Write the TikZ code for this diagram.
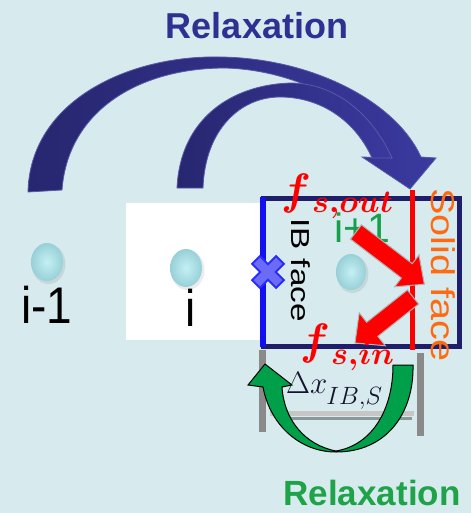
\RequirePackage{fix-cm}
\documentclass[tikz,border=0pt]{standalone}
\usepackage[no-math]{fontspec}
\newfontfamily\sansfam{Liberation Sans}
\definecolor{bgcol}{HTML}{D7EAED}
\definecolor{titleblue}{HTML}{2E3192}
\definecolor{arcdark}{HTML}{27266F}
\definecolor{arclight}{HTML}{3A399E}
\definecolor{boxnavy}{HTML}{1E1E6A}
\definecolor{ibblue}{HTML}{1010F0}
\definecolor{xfill}{HTML}{6B6BF5}
\definecolor{xline}{HTML}{2B2BFF}
\definecolor{solidorange}{HTML}{FF6A10}
\definecolor{cellgreen}{HTML}{16A04C}
\definecolor{arrgreen}{HTML}{00A04A}
\definecolor{relaxgreen}{HTML}{1FA349}
\definecolor{ballin}{HTML}{C4F0F4}
\definecolor{ballout}{HTML}{98D0D8}
\definecolor{dimgray}{HTML}{8A8A8A}
\definecolor{symbcol}{HTML}{14142E}
\begin{document}
\begin{tikzpicture}[x=1pt,y=-1pt,
  txt/.style={inner sep=0pt},
  ballshape/.style={inner color=ballin, outer color=ballout},
  arcband/.style={left color=arcdark, right color=arclight, draw=gray!70!blue, line width=0.8pt},
  redarrow/.style={fill=red, draw=gray!60, line width=1pt},
  guide/.style={dimgray, line width=7pt}]
\fill[bgcol] (0,0) rectangle (471,513);
\useasboundingbox (0,0) rectangle (471,513);

% cell i
\fill[white] (126,203) rectangle (263,340);

% cell centres
\foreach \cx/\cy/\rx/\ry in {47/262/16/19, 186/268/16/19, 351/272/15/18}{
  \fill[black, opacity=0.08] (\cx+1.5,\cy+2) ellipse [x radius=\rx+1, y radius=\ry+1];
  \shade[ballshape] (\cx,\cy) ellipse [x radius=\rx, y radius=\ry];
}

% boundary cell i+1
\draw[boxnavy, line width=5pt] (263,198) rectangle (459,346);
\draw[red, line width=5pt] (412,190) -- (412,350);
\draw[ibblue, line width=6pt] (263,197) -- (263,347);

% extent of the cut cell
\draw[guide] (262,350) -- (262,432);
\draw[guide] (420,353) -- (420,436);
\draw[black, opacity=0.35, line width=3pt] (276,418) -- (412,418);
\draw[gray!45, line width=5pt] (270,413) -- (414,413);

% labels
\node[txt, anchor=base] (tRelax) at (257,39) {\sansfam\bfseries\fontsize{36}{36}\selectfont\color{titleblue}Relaxation};
\node[txt, anchor=base] (bRelax) at (372,505) {\sansfam\bfseries\fontsize{35}{35}\selectfont\color{relaxgreen}Relaxation};
\node[txt, anchor=base] (lim1) at (47,323) {\sansfam\fontsize{46}{46}\selectfont\scalebox{1}[1.12]{i-1}};
\node[txt, anchor=base] (li) at (191,326) {\sansfam\fontsize{46}{46}\selectfont\scalebox{1}[1.12]{i}};
\node[txt, anchor=base] (lip1) at (362,242) {\sansfam\fontsize{41}{41}\selectfont\color{cellgreen}i+1};
\node[txt, rotate=-90] (ibface) at (301,270) {\sansfam\fontsize{26}{26}\selectfont\scalebox{1.28}[1]{IB face}};
\node[txt, rotate=-90] (solidface) at (443,275) {\sansfam\fontsize{33}{33}\selectfont\color{solidorange}\scalebox{1.2}[1]{Solid face}};

% upper relaxation arrows
\path[arcband]
  (28,192) .. controls (30,100) and (130,55) .. (220,57)
  .. controls (310,58) and (395,100) .. (421,157)
  -- (436,158) -- (410,189) -- (362,157) -- (392,158)
  .. controls (370,110) and (300,70) .. (225,68)
  .. controls (140,68) and (68,110) .. (62,190) -- cycle;
\path[arcband]
  (177,188) .. controls (180,120) and (230,85) .. (290,83)
  .. controls (340,83) and (375,120) .. (392,158)
  -- (372,158)
  .. controls (355,120) and (320,97) .. (280,97)
  .. controls (240,97) and (205,130) .. (203,188) -- cycle;

% flux arrows
\begin{scope}[shift={(356,232)}, rotate=-37.4]
  \path[redarrow] (0,-9) -- (64,-9) -- (64,-20) -- (86,0) -- (64,20) -- (64,9) -- (0,9) -- cycle;
\end{scope}
\begin{scope}[shift={(413,297)}, rotate=-141.6]
  \path[redarrow] (0,-9) -- (52,-9) -- (52,-21) -- (74,0) -- (52,21) -- (52,9) -- (0,9) -- cycle;
\end{scope}

% intersection marker on the IB face
\begin{scope}[shift={(268,272)}, rotate=45]
  \filldraw[fill=xfill, draw=xline, line width=2pt]
    (17,5.5) -- (5.5,5.5) -- (5.5,17) -- (-5.5,17) -- (-5.5,5.5) -- (-17,5.5)
    -- (-17,-5.5) -- (-5.5,-5.5) -- (-5.5,-17) -- (5.5,-17) -- (5.5,-5.5) -- (17,-5.5) -- cycle;
\end{scope}

% lower relaxation arrow
\filldraw[fill=arrgreen, draw=black, line width=1pt]
  (413,365) .. controls (414,415) and (385,452) .. (336,452)
  .. controls (300,452) and (270,425) .. (263,387)
  -- (248,385) -- (265,364) -- (292,385) -- (282,387)
  .. controls (284,420) and (305,445) .. (336,451)
  .. controls (372,445) and (393,410) .. (393,365) -- cycle;

% flux symbols
\node[txt, anchor=base west] (fout) at (281,204.5) {\color{red}\fontsize{44}{44}\selectfont{\boldmath$f$}\kern1pt\raisebox{-8pt}{\fontsize{32}{32}\selectfont\boldmath$s{,}out$}};
\node[txt, anchor=base west] (fin) at (300,354.5) {\color{red}\fontsize{44}{44}\selectfont{\boldmath$f$}\kern1pt\raisebox{-10pt}{\fontsize{32}{32}\selectfont\boldmath$s{,}in$}};
\node[txt, anchor=base west] (dx) at (286,393) {\color{symbcol}\fontsize{31}{31}\selectfont$\Delta x$\kern-1pt\raisebox{-11pt}{\fontsize{25}{25}\selectfont$IB{,}S$}};
\end{tikzpicture}
\end{document}
